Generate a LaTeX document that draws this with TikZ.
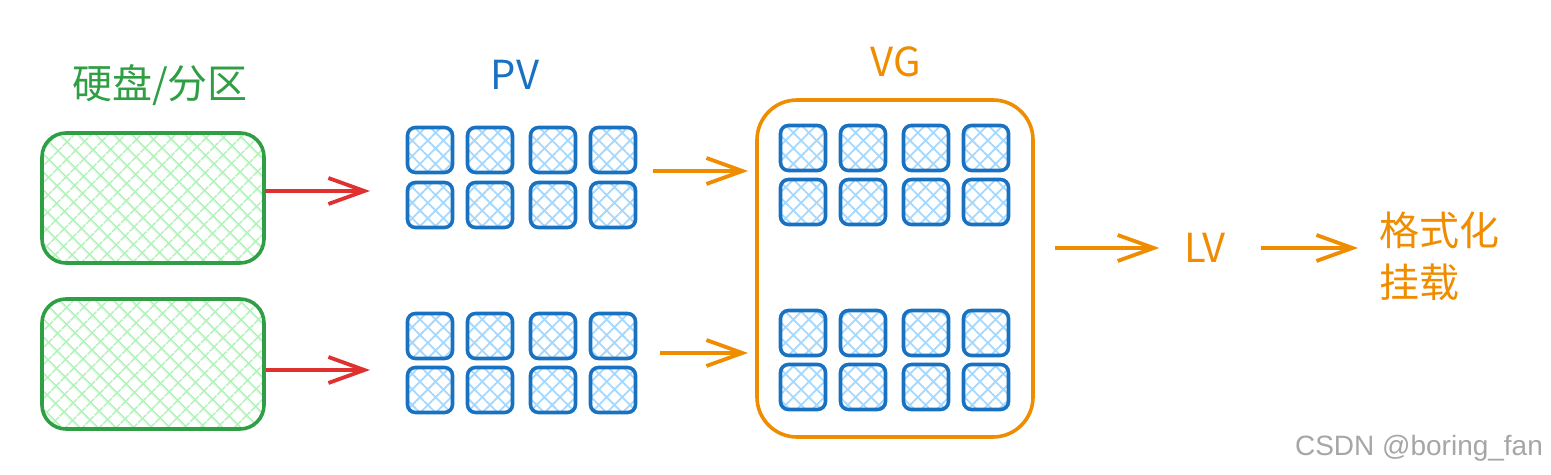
\documentclass[tikz,border=0pt]{standalone}
\usepackage{fontspec}
\setmainfont{Noto Sans CJK SC}
\setsansfont{Liberation Sans}
\usetikzlibrary{arrows.meta,patterns.meta}
\definecolor{diskgreen}{HTML}{2F9E44}
\definecolor{diskfill}{HTML}{B2F2BB}
\definecolor{pvblue}{HTML}{1971C2}
\definecolor{pvfill}{HTML}{A5D8FF}
\definecolor{vgorange}{HTML}{F08C00}
\definecolor{linkred}{HTML}{E03131}
\tikzset{
  disk/.style={draw=diskgreen, line width=1.8pt, rounded corners=12pt,
    minimum width=111pt, minimum height=65pt,
    pattern={Hatch[angle=45,distance=6.5pt,line width=0.9pt]}, pattern color=diskfill},
  pe/.style={draw=pvblue, line width=1.8pt, rounded corners=4pt,
    minimum size=22.5pt, inner sep=0pt,
    pattern={Hatch[angle=45,distance=5.5pt,line width=0.9pt]}, pattern color=pvfill},
  link/.style={line width=1.9pt, -{Straight Barb[length=18pt,width=13pt,line width=1.9pt]}},
  lbl/.style={font=\fontsize{20}{26}\selectfont},
}
\begin{document}
\begin{tikzpicture}[x=0.5pt,y=-0.5pt]
\useasboundingbox (0,0) rectangle (1551,475);
% disks / partitions
\node[lbl, text=diskgreen] (disklabel) at (160,85) {硬盘/分区};
\node[disk] (disk1) at (153,198) {};
\node[disk] (disk2) at (153,364) {};
\coordinate (pvin1) at (370,191);
\coordinate (pvin2) at (370,370);
\draw[link, draw=linkred] (disk1.east |- pvin1) -- (pvin1);
\draw[link, draw=linkred] (disk2.east |- pvin2) -- (pvin2);
% physical volumes
\node[lbl, text=pvblue] (pvlabel) at (515,75) {PV};
\foreach \col/\x in {1/430,2/490,3/553,4/613}
  \foreach \row/\y in {1/150,2/205,3/336,4/390}
    \node[pe] (pv-\row-\col) at (\x,\y) {};
\coordinate (pvout1) at (653,171);
\coordinate (vgin1) at (748,171);
\coordinate (pvout2) at (660,353);
\coordinate (vgin2) at (748,353);
\draw[link, draw=vgorange] (pvout1) -- (vgin1);
\draw[link, draw=vgorange] (pvout2) -- (vgin2);
% volume group
\node[lbl, text=vgorange] (vglabel) at (896,62) {VG};
\node[draw=vgorange, line width=1.8pt, rounded corners=20pt,
  minimum width=138pt, minimum height=168.5pt] (vg) at (895,268.5) {};
\foreach \col/\x in {1/803,2/863,3/926,4/986}
  \foreach \row/\y in {1/148,2/202,3/333,4/387}
    \node[pe] (vgpe-\row-\col) at (\x,\y) {};
% logical volume
\node[lbl, text=vgorange] (lv) at (1205,248) {LV};
\node[lbl, text=vgorange, anchor=west, align=left] (mount) at (1372,256) {格式化\\挂载};
\draw[link, draw=vgorange, shorten >=9pt] ([xshift=10pt]vg.east |- lv) -- (lv);
\draw[link, draw=vgorange, shorten <=14pt, shorten >=7pt] (lv) -- (mount.west |- lv);
\node[font=\sffamily\fontsize{14}{14}\selectfont, text=black!35] (mark) at (1419,448) {CSDN @boring\_fan};
\end{tikzpicture}
\end{document}
